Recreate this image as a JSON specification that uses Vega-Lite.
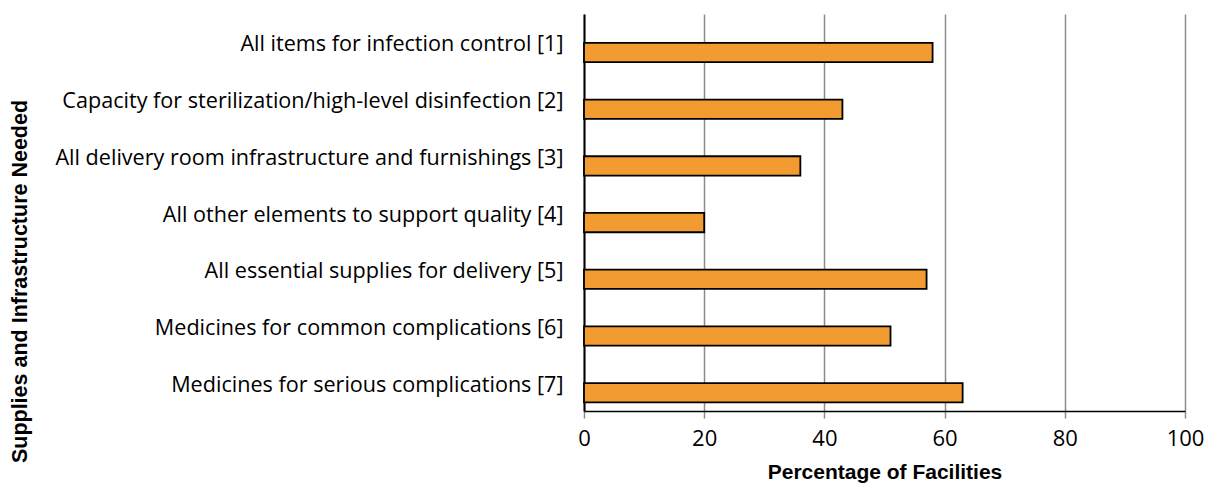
{
  "$schema": "https://vega.github.io/schema/vega-lite/v6.json",
  "autosize": {"type": "none"},
  "width": 601,
  "height": 397,
  "padding": {"left": 584, "top": 14, "right": 24, "bottom": 76},
  "background": "white",
  "config": {
    "view": {"stroke": null},
    "font": "Open Sans"
  },
  "data": {
    "values": [
      {"item": "All items for infection control [1]", "pct": 58},
      {"item": "Capacity for sterilization/high-level disinfection [2]", "pct": 43},
      {"item": "All delivery room infrastructure and furnishings [3]", "pct": 36},
      {"item": "All other elements to support quality [4]", "pct": 20},
      {"item": "All essential supplies for delivery [5]", "pct": 57},
      {"item": "Medicines for common complications [6]", "pct": 51},
      {"item": "Medicines for serious complications [7]", "pct": 63}
    ]
  },
  "mark": {"type": "bar", "fill": "#F29B30", "stroke": "#000000", "strokeWidth": 1.8},
  "encoding": {
    "y": {
      "field": "item",
      "type": "nominal",
      "sort": null,
      "scale": {"paddingInner": 0.66, "paddingOuter": 0.33, "align": 0.77},
      "axis": {
        "title": "Supplies and Infrastructure Needed",
        "titleFont": "Liberation Sans",
        "titleFontSize": 21.5,
        "titleFontWeight": "bold",
        "titleColor": "#000000",
        "titleX": -564,
        "titleY": 267,
        "titleAngle": -90,
        "titleAlign": "center",
        "titleBaseline": "middle",
        "labelFont": "Open Sans",
        "labelFontSize": 21.6,
        "labelColor": "#000000",
        "labelPadding": 21,
        "labelOffset": -7,
        "labelLimit": 600,
        "ticks": false,
        "domain": true,
        "domainColor": "#000000",
        "domainWidth": 2
      }
    },
    "x": {
      "field": "pct",
      "type": "quantitative",
      "scale": {"domain": [0, 100], "nice": false},
      "axis": {
        "values": [0, 20, 40, 60, 80, 100],
        "title": "Percentage of Facilities",
        "titleFont": "Liberation Sans",
        "titleFontSize": 21,
        "titleFontWeight": "bold",
        "titleColor": "#000000",
        "titlePadding": 12,
        "labelFont": "Open Sans",
        "labelFontSize": 22,
        "labelFlush": false,
        "labelColor": "#000000",
        "labelPadding": 10,
        "tickColor": "#8c8c8c",
        "tickSize": 7,
        "tickWidth": 1.5,
        "domainColor": "#000000",
        "domainWidth": 1.5,
        "grid": true,
        "gridColor": "#8c8c8c",
        "gridWidth": 1.5
      }
    }
  }
}
